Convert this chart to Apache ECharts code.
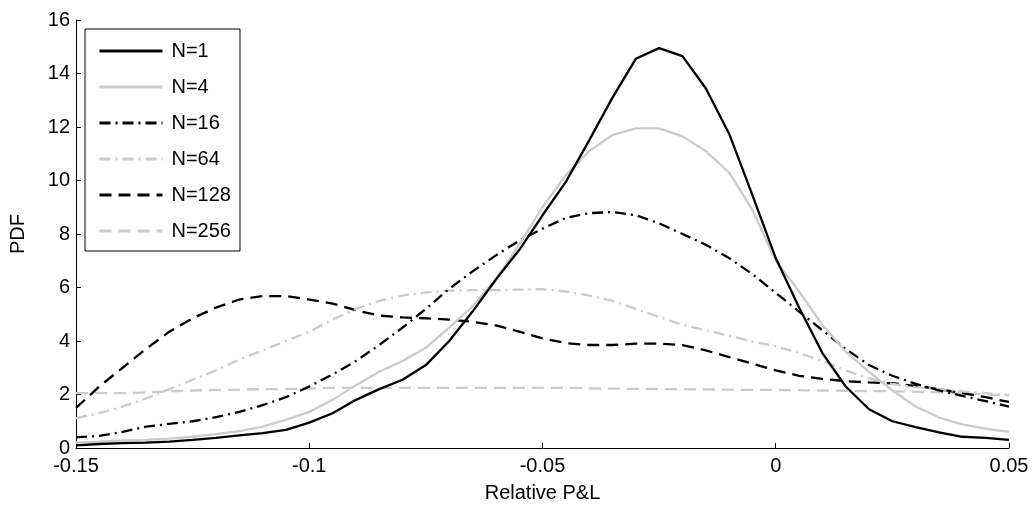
<!DOCTYPE html>
<html>
<head>
<meta charset="utf-8">
<script src="https://cdn.jsdelivr.net/npm/echarts@6/dist/echarts.min.js"></script>
<style>
  html, body { margin: 0; padding: 0; background: #fff; }
  #chart { width: 1032px; height: 510px; }
</style>
</head>
<body>
<div id="chart"></div>
<script>
// Relative P&L grid (step 0.005 from -0.15 to 0.05)
const pnl = [];
for (let i = 0; i <= 40; i++) pnl.push(+(-0.15 + i * 0.005).toFixed(3));

const seriesNames = ['N=1', 'N=4', 'N=16', 'N=64', 'N=128', 'N=256'];

const pdfN1 = [0.1, 0.15, 0.18, 0.2, 0.24, 0.3, 0.38, 0.47, 0.56, 0.68,
  0.95, 1.3, 1.8, 2.2, 2.55, 3.1, 4.0, 5.1, 6.3, 7.4,
  8.7, 9.95, 11.5, 13.1, 14.55, 14.95, 14.65, 13.45, 11.75, 9.45,
  7.1, 5.25, 3.55, 2.3, 1.45, 1.0, 0.78, 0.58, 0.42, 0.38, 0.3];

const pdfN4 = [0.2, 0.24, 0.28, 0.3, 0.35, 0.42, 0.52, 0.63, 0.8, 1.05,
  1.35, 1.8, 2.35, 2.85, 3.25, 3.75, 4.5, 5.3, 6.3, 7.6,
  9.0, 10.2, 11.1, 11.7, 11.95, 11.95, 11.65, 11.1, 10.3, 8.9,
  7.0, 5.85, 4.6, 3.6, 2.85, 2.15, 1.55, 1.14, 0.88, 0.72, 0.6];

const pdfN16 = [0.4, 0.45, 0.6, 0.8, 0.9, 1.0, 1.15, 1.35, 1.6, 1.9,
  2.3, 2.75, 3.25, 3.85, 4.5, 5.2, 5.95, 6.6, 7.2, 7.75,
  8.2, 8.6, 8.78, 8.82, 8.7, 8.4, 8.0, 7.6, 7.1, 6.5,
  5.8, 5.1, 4.4, 3.7, 3.1, 2.7, 2.4, 2.15, 1.95, 1.75, 1.55];

const pdfN64 = [1.12, 1.3, 1.55, 1.85, 2.2, 2.55, 2.9, 3.3, 3.65, 4.0,
  4.35, 4.8, 5.2, 5.5, 5.7, 5.82, 5.88, 5.9, 5.9, 5.92,
  5.94, 5.85, 5.7, 5.5, 5.2, 4.9, 4.6, 4.4, 4.2, 3.98,
  3.8, 3.55, 3.25, 2.9, 2.6, 2.4, 2.27, 2.2, 2.12, 2.05, 1.98];

const pdfN128 = [1.5, 2.3, 3.0, 3.7, 4.35, 4.85, 5.25, 5.55, 5.68, 5.68,
  5.55, 5.4, 5.15, 4.95, 4.88, 4.85, 4.8, 4.72, 4.58, 4.35,
  4.1, 3.92, 3.85, 3.85, 3.9, 3.9, 3.85, 3.65, 3.4, 3.15,
  2.9, 2.7, 2.58, 2.5, 2.45, 2.42, 2.32, 2.2, 2.05, 1.9, 1.72];

const pdfN256 = [2.05, 2.05, 2.05, 2.08, 2.12, 2.15, 2.17, 2.18, 2.2, 2.2,
  2.22, 2.25, 2.25, 2.25, 2.25, 2.25, 2.25, 2.25, 2.25, 2.25,
  2.25, 2.25, 2.23, 2.22, 2.21, 2.2, 2.2, 2.19, 2.18, 2.17,
  2.17, 2.16, 2.15, 2.14, 2.13, 2.12, 2.1, 2.08, 2.05, 2.0, 1.97];

const xTicks = [-0.15, -0.1, -0.05, 0, 0.05];

const allValues = [pdfN1, pdfN4, pdfN16, pdfN64, pdfN128, pdfN256];
const lineColors = ['#000000', '#cbcbcb', '#000000', '#cbcbcb', '#000000', '#cbcbcb'];
const dashDot = [11, 5, 2, 5];
const dashed = [12, 7];
const lineTypes = ['solid', 'solid', dashDot, dashDot, dashed, dashed];

const FONT = 'Liberation Sans, Arial, sans-serif';

const chart = echarts.init(document.getElementById('chart'), null, { renderer: 'canvas' });

const series = seriesNames.map((name, k) => ({
  name: name,
  type: 'line',
  data: pnl.map((x, i) => [x, allValues[k][i]]),
  showSymbol: false,
  symbol: 'none',
  smooth: false,
  animation: false,
  lineStyle: { color: lineColors[k], width: 2.3, type: lineTypes[k] },
  itemStyle: { color: lineColors[k] },
  z: 10 - k
}));

chart.setOption({
  backgroundColor: '#ffffff',
  animation: false,
  grid: { left: 73, right: 23, top: 20, bottom: 62, containLabel: false },
  legend: {
    data: seriesNames,
    orient: 'vertical',
    left: 85,
    top: 29,
    backgroundColor: '#ffffff',
    borderColor: '#000000',
    borderWidth: 1,
    borderRadius: 0,
    padding: [12, 9, 10, 13],
    itemWidth: 63,
    itemHeight: 14,
    itemGap: 16,
    selectedMode: false,
    itemStyle: { opacity: 0 },
    lineStyle: { width: 3 },
    textStyle: { fontFamily: FONT, fontSize: 20, color: '#000', padding: [0, 0, 0, 4] }
  },
  xAxis: {
    type: 'value',
    min: -0.15,
    max: 0.05,
    interval: 0.05,
    name: 'Relative P&L',
    nameLocation: 'middle',
    nameGap: 35,
    nameTextStyle: { fontFamily: FONT, fontSize: 20, color: '#000' },
    axisLine: { show: true, onZero: false, lineStyle: { color: '#000', width: 1 } },
    axisTick: { show: true, inside: true, length: 5, lineStyle: { color: '#000' } },
    axisLabel: {
      fontFamily: FONT, fontSize: 20, color: '#000', margin: 8,
      formatter: v => {
        const t = xTicks.find(x => Math.abs(x - v) < 1e-9);
        return t === undefined ? '' : String(t);
      }
    },
    splitLine: { show: false }
  },
  yAxis: {
    type: 'value',
    min: 0,
    max: 16,
    interval: 2,
    name: 'PDF',
    nameLocation: 'middle',
    nameGap: 48,
    nameRotate: 90,
    nameTextStyle: { fontFamily: FONT, fontSize: 20, color: '#000' },
    axisLine: { show: true, onZero: false, lineStyle: { color: '#000', width: 1 } },
    axisTick: { show: true, inside: true, length: 5, lineStyle: { color: '#000' } },
    axisLabel: {
      fontFamily: FONT, fontSize: 20, color: '#000', margin: 6,
      formatter: v => String(v)
    },
    splitLine: { show: false }
  },
  series: series
});
</script>
</body>
</html>
